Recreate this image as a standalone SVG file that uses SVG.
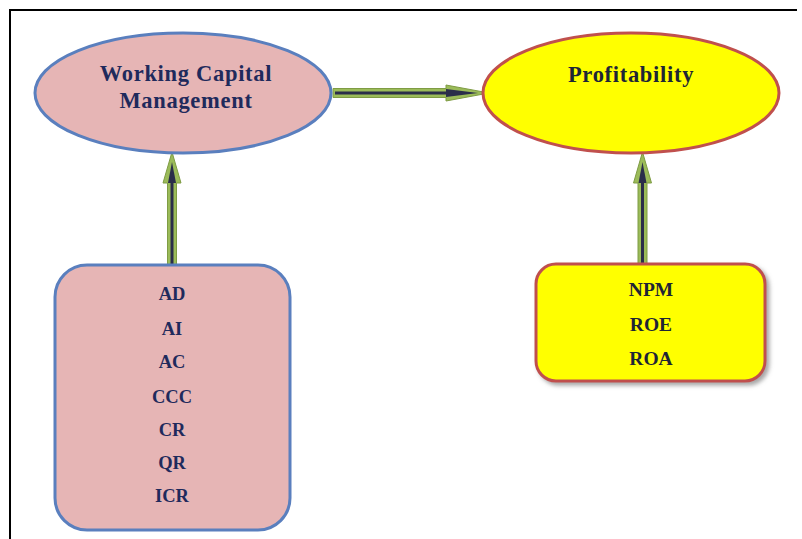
<svg xmlns="http://www.w3.org/2000/svg" width="802" height="539" viewBox="0 0 802 539">
<defs>
<filter id="sh" x="-10%" y="-10%" width="130%" height="130%"><feDropShadow dx="3" dy="3" stdDeviation="2" flood-color="#808080" flood-opacity="0.7"/></filter>
</defs>
<style>
.t{font-family:"Liberation Serif",serif;font-weight:bold;text-anchor:middle}
.big{font-size:22.5px;letter-spacing:0.7px}
.sm{font-size:18.5px}
.sm2{font-size:19.5px}
.navy{fill:#1f2a5c}
.dk{fill:#1e2536}
.ga{fill:#9bbb59;stroke:#7f9c44;stroke-width:1}
.core{stroke:#2a2d4a;stroke-width:3;fill:none}
.ch{fill:#2a2d4a}
</style>
<rect width="802" height="539" fill="#fff"/>
<path d="M10 539 V10 H797" fill="none" stroke="#000" stroke-width="2"/>
<g id="connectors">
<g id="arrow-wcm-prof">
<polygon class="ga" points="333,88.5 446,88.5 446,85 489,93 446,101 446,97.5 333,97.5"/>
<line class="core" x1="335" y1="93" x2="450" y2="93"/>
<polygon class="ch" points="446,89 478,93 446,97"/>
</g>
<g id="arrow-box-wcm">
<polygon class="ga" points="167.5,266 167.5,183 163,183 172,152 181,183 176.5,183 176.5,266"/>
<line class="core" x1="172" y1="265" x2="172" y2="180"/>
<polygon class="ch" points="168,183 172,162 176,183"/>
</g>
<g id="arrow-box-prof">
<polygon class="ga" points="638,264 638,183 633.5,183 642.5,152 651.5,183 647,183 647,264"/>
<line class="core" x1="642.5" y1="263" x2="642.5" y2="180"/>
<polygon class="ch" points="638.5,183 642.5,162 646.5,183"/>
</g>
</g>
<g id="node-wcm">
<ellipse cx="183" cy="93" rx="148" ry="60" fill="#e6b5b5" stroke="#5a7fbe" stroke-width="3"/>
<text class="t big navy" x="186" y="81">Working Capital</text>
<text class="t big navy" x="186" y="108">Management</text>
</g>
<g id="node-prof">
<ellipse cx="631" cy="93" rx="148" ry="60" fill="#ffff00" stroke="#c0504d" stroke-width="3"/>
<text class="t big dk" x="631" y="82">Profitability</text>
</g>
<g id="node-wcm-ind">
<rect x="55" y="265" width="235" height="265" rx="32" fill="#e6b5b5" stroke="#5a7fbe" stroke-width="3"/>
<text class="t sm navy" x="172" y="300">AD</text>
<text class="t sm navy" x="172" y="335">AI</text>
<text class="t sm navy" x="172" y="368">AC</text>
<text class="t sm navy" x="172" y="403">CCC</text>
<text class="t sm navy" x="172" y="436">CR</text>
<text class="t sm navy" x="172" y="469">QR</text>
<text class="t sm navy" x="172" y="502">ICR</text>
</g>
<g id="node-prof-ind">
<rect x="536" y="264" width="229" height="117" rx="20" fill="#ffff00" stroke="#c0504d" stroke-width="3" filter="url(#sh)"/>
<text class="t sm2 dk" x="651" y="296">NPM</text>
<text class="t sm2 dk" x="651" y="331">ROE</text>
<text class="t sm2 dk" x="651" y="365">ROA</text>
</g>
</svg>
